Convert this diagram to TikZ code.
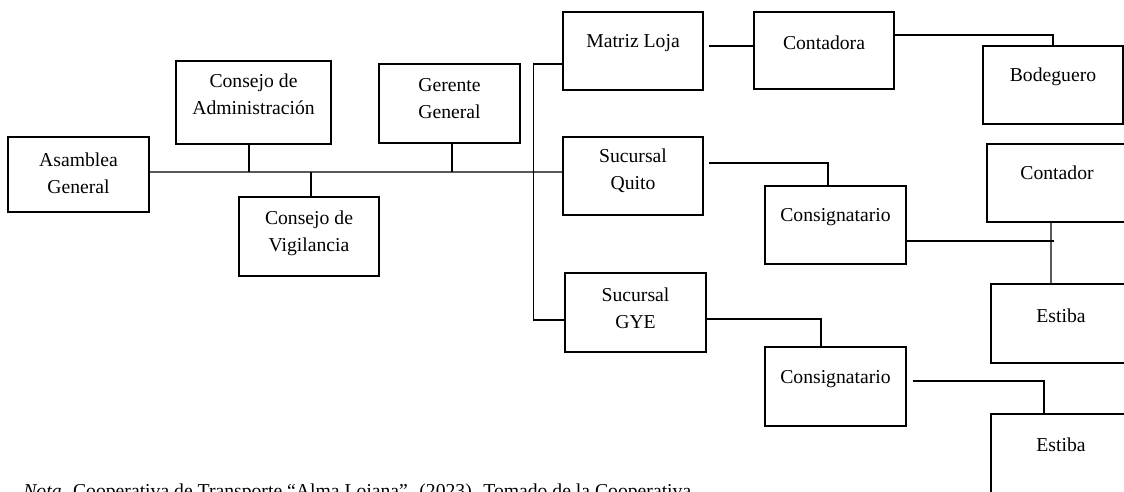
\documentclass[tikz,border=0pt]{standalone}
\usepackage{fontspec}
\setmainfont{Liberation Serif}
\usetikzlibrary{fit,calc}
\newcommand{\orgbox}[7]{%
  \node[boxst, fit={(#2,#3) (#4,#5)}] (#1) {};
  \node[txt] (#1t) at ($(#1.center)+(0,#6)$) {#7};}
\begin{document}
\begin{tikzpicture}[x=0.02cm,y=-0.02cm,
  boxst/.style={draw, line width=0.7pt, inner sep=0pt, rectangle},
  txt/.style={font=\fontsize{11.2}{15.4}\selectfont, align=center, inner sep=0pt},
  ln/.style={line width=0.7pt}]
\useasboundingbox (0,0) rectangle (1124,491);
\clip (0,0) rectangle (1124,491);
% boxes
\orgbox{asm}{8}{137}{149}{212}{-1}{Asamblea\\General}
\orgbox{adm}{176}{61}{331}{144}{-8}{Consejo de\\Administración}
\orgbox{ger}{379}{64}{520}{143}{-5}{Gerente\\General}
\orgbox{vig}{239}{197}{379}{276}{-3}{Consejo de\\Vigilancia}
\orgbox{ml}{563}{12}{703}{90}{-8}{Matriz Loja}
\orgbox{sq}{563}{137}{703}{215}{-5.5}{Sucursal\\Quito}
\orgbox{gye}{565}{273}{706}{352}{-4.5}{Sucursal\\GYE}
\orgbox{ctd}{754}{12}{894}{89}{-7.5}{Contadora}
\orgbox{bod}{983}{46}{1123}{124}{-8}{Bodeguero}
\orgbox{ctr}{987}{144}{1127}{222}{-10}{Contador}
\orgbox{cq}{765}{186}{906}{264}{-8}{Consignatario}
\orgbox{cg}{765}{347}{906}{426}{-7.5}{Consignatario}
\orgbox{ea}{991}{284}{1131}{363}{-7.5}{Estiba}
\orgbox{eb}{991}{414}{1131}{493}{-8.5}{Estiba}
% main spine
\coordinate (sp) at ([yshift=0.05cm]asm.east);
\draw[ln] (sp) -- ([yshift=0.08cm]sq.west);
\draw[ln] (adm.south) ++(-4.5,0) coordinate (a1) -- (a1 |- sp);
\draw[ln] (vig.north) ++(2,0) coordinate (v1) -- (v1 |- sp);
\draw[ln] (ger.south) ++(2.5,0) coordinate (g1) -- (g1 |- sp);
% bracket to Matriz Loja and Sucursal GYE
\coordinate (b1) at ([yshift=-0.26cm]ml.west);
\coordinate (b2) at ([yshift=-0.15cm]gye.west);
\draw[ln] (b1) -- ++(-29,0) |- (b2);
% Matriz Loja -> Contadora -> Bodeguero
\draw[ln] ([xshift=0.1cm,yshift=0.1cm]ml.east) coordinate (m1) -- (m1 -| ctd.west);
\draw[ln] ([yshift=0.31cm]ctd.east) -| (bod.north);
% Sucursal Quito -> Consignatario -> Contador / Estiba
\draw[ln] ([xshift=0.1cm,yshift=0.26cm]sq.east) -| ([xshift=-0.15cm]cq.north);
\draw[ln] ([xshift=-0.12cm]ctr.south) -- ([xshift=-0.2cm]ea.north);
\draw[ln] ([yshift=-0.32cm]cq.east) coordinate (q1) -- ++(147,0);
% Sucursal GYE -> Consignatario -> Estiba
\draw[ln] ([yshift=-0.13cm]gye.east) -| ([xshift=-0.29cm]cg.north);
\draw[ln] ([xshift=0.12cm,yshift=0.11cm]cg.east) -| ([xshift=-0.34cm]eb.north);
% note (cut at the bottom edge)
\node[txt, anchor=base west] (nota) at (23,497) {\textit{Nota.} Cooperativa de Transporte “Alma Lojana”. (2023). Tomado de la Cooperativa};
\end{tikzpicture}
\end{document}
